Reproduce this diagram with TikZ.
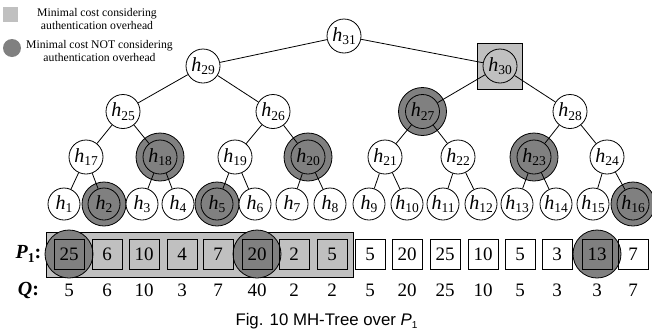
\documentclass[tikz,border=0pt]{standalone}
\usepackage{fontspec}
\setmainfont{Liberation Serif}
\newfontfamily\capfont{Liberation Sans}
\definecolor{lgray}{RGB}{192,192,192}
\definecolor{dgray}{RGB}{128,128,128}
\newcommand\hlab[1]{\fontsize{20}{20}\selectfont\textit{h}\raisebox{-3.5pt}{\fontsize{13.5}{13.5}\selectfont #1}}
\begin{document}
\begin{tikzpicture}[x=1pt,y=-1pt,
  nd/.style={circle,draw,line width=0.8pt,minimum size=34pt,inner sep=0pt,fill=white},
  lf/.style={nd,minimum size=32pt},
  hot/.style={fill=dgray},
  ring/.style={circle,draw,line width=0.8pt,fill=dgray,minimum size=48pt,inner sep=0pt},
  lring/.style={ring,minimum size=44pt},
  edge/.style={line width=0.8pt},
  bx/.style={draw,line width=0.8pt,minimum size=30pt,inner sep=0pt,font=\fontsize{19}{19}\selectfont},
  qn/.style={inner sep=0pt,font=\fontsize{19}{19}\selectfont},
  lgtxt/.style={align=center,inner sep=0pt,font=\fontsize{11.7}{13}\selectfont}]
\useasboundingbox (0,0) rectangle (652,335);
% legend
\node (lsq) [fill=lgray,minimum size=15pt,inner sep=0pt] at (10.5,14.5) {};
\node (lt1) [lgtxt] at (97,18.5) {Minimal cost considering\\authentication overhead};
\node (lci) [circle,fill=dgray,minimum size=18pt,inner sep=0pt] at (12,48) {};
\node (lt2) [lgtxt] at (99.5,51) {Minimal cost NOT considering\\authentication overhead};
% backgrounds
\node (grp) [draw,line width=0.8pt,fill=lgray,minimum width=307pt,minimum height=45pt,inner sep=0pt] at (199.5,254.5) {};
\node (sq) [draw,line width=0.8pt,fill=lgray,minimum width=45pt,minimum height=46pt,inner sep=0pt] at (500,66) {};
% rings
\node (r2) [lring] at (104,204) {};
\node (r5) [lring] at (217,204) {};
\node (r16) [lring] at (633,204) {};
\node (r18) [ring] at (160,157) {};
\node (r20) [ring] at (308,157) {};
\node (r23) [ring] at (534,157) {};
\node (r27) [ring] at (422.5,111.5) {};
\node (rb1) [ring] at (69,254) {};
\node (rb6) [ring] at (257,254) {};
\node (rb15) [ring] at (597,254) {};
% leaves
\node (h1) [lf] at (64,204) {\hlab{1}};
\node (h2) [lf,hot] at (104,204) {\hlab{2}};
\node (h3) [lf] at (142,204) {\hlab{3}};
\node (h4) [lf] at (178,204) {\hlab{4}};
\node (h5) [lf,hot] at (217,204) {\hlab{5}};
\node (h6) [lf] at (255,204) {\hlab{6}};
\node (h7) [lf] at (292,204) {\hlab{7}};
\node (h8) [lf] at (330,204) {\hlab{8}};
\node (h9) [lf] at (369,204) {\hlab{9}};
\node (h10) [lf] at (407,204) {\hlab{10}};
\node (h11) [lf] at (443,204) {\hlab{11}};
\node (h12) [lf] at (481,204) {\hlab{12}};
\node (h13) [lf] at (517,204) {\hlab{13}};
\node (h14) [lf] at (556,204) {\hlab{14}};
\node (h15) [lf] at (593,204) {\hlab{15}};
\node (h16) [lf,hot] at (633,204) {\hlab{16}};
% level 2
\node (h17) [nd] at (86,157) {\hlab{17}};
\node (h18) [nd,hot] at (160,157) {\hlab{18}};
\node (h19) [nd] at (235,157) {\hlab{19}};
\node (h20) [nd,hot] at (308,157) {\hlab{20}};
\node (h21) [nd] at (385,157) {\hlab{21}};
\node (h22) [nd] at (458,157) {\hlab{22}};
\node (h23) [nd,hot] at (534,157) {\hlab{23}};
\node (h24) [nd] at (607,157) {\hlab{24}};
% level 3
\node (h25) [nd] at (123,111.5) {\hlab{25}};
\node (h26) [nd] at (273,111.5) {\hlab{26}};
\node (h27) [nd,hot] at (422.5,111.5) {\hlab{27}};
\node (h28) [nd] at (570,111.5) {\hlab{28}};
% level 4 and root
\node (h29) [nd] at (203,66) {\hlab{29}};
\node (h30) [nd,fill=lgray] at (500,66) {\hlab{30}};
\node (h31) [nd] at (344,36) {\hlab{31}};
% edges
\foreach \p/\a/\b in {17/1/2,18/3/4,19/5/6,20/7/8,21/9/10,22/11/12,23/13/14,24/15/16,
                      25/17/18,26/19/20,27/21/22,28/23/24,29/25/26,30/27/28,31/29/30}{
  \draw[edge] (h\p) -- (h\a);
  \draw[edge] (h\p) -- (h\b);
}
% P1 row
\node (pl) [inner sep=0pt,font=\fontsize{20}{20}\selectfont\bfseries] at (28.5,254) {\textit{P}\raisebox{-3.5pt}{\fontsize{13.5}{13.5}\selectfont 1}:};
\node (ql) [inner sep=0pt,font=\fontsize{20}{20}\selectfont\bfseries] at (28.5,290) {\textit{Q}:};
\foreach \i/\x/\pv/\qv in {1/69/25/5,2/107/6/6,3/144/10/10,4/182/4/3,5/218/7/7,6/257/20/40,7/294/2/2,8/332/5/2,
  9/370/5/5,10/407/20/20,11/445/25/25,12/483/10/10,13/520/5/5,14/557/3/3,15/597/13/3,16/633/7/7}{
  \node (b\i) [bx] at (\x,254) {\pv};
  \node (q\i) [qn] at (\x,290) {\qv};
}
% caption
\node (cap) [anchor=base,inner sep=0pt,font=\capfont\fontsize{16.8}{17}\selectfont] at (326.5,325) {Fig. 10 MH-Tree over \textit{P}\raisebox{-3pt}{\fontsize{10}{10}\selectfont 1}};
\end{tikzpicture}
\end{document}
